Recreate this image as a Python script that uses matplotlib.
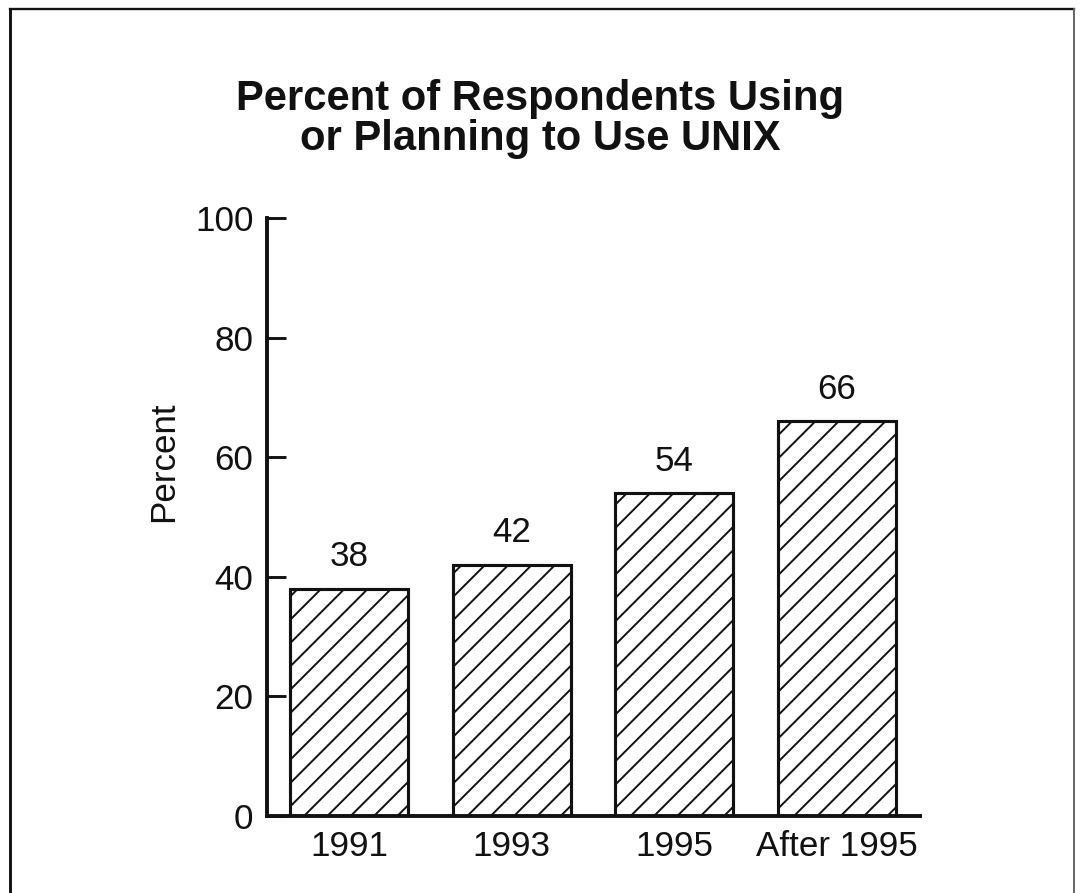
import numpy as np
import matplotlib.pyplot as plt
from matplotlib.lines import Line2D

# Дані
categories = ['1991', '1993', '1995', 'After 1995']
values = [38, 42, 54, 66]
yticks = [0, 20, 40, 60, 80, 100]

plt.rcParams['font.family'] = ['Liberation Sans', 'DejaVu Sans']
plt.rcParams['hatch.linewidth'] = 1.0

dpi = 140
fig = plt.figure(figsize=(1080 / dpi, 893 / dpi), dpi=dpi)
ax = fig.add_axes([267 / 1080, 1 - 816 / 893, (920 - 267) / 1080, (816 - 218) / 893])

x = np.arange(len(categories))
bars = ax.bar(x, values, width=0.725, color='white', edgecolor='#111111',
              linewidth=1.6, hatch='//')

for xi, v in zip(x, values):
    ax.annotate(str(v), (xi, v), xytext=(0, 8), textcoords='offset points',
                ha='center', va='bottom', fontsize=18, color='#111111')

ax.set_xlim(-0.505, 3.51)
ax.set_ylim(0, 100)
ax.set_xticks(x)
ax.set_xticklabels(categories, fontsize=18, color='#111111')
ax.set_yticks(yticks)
ax.set_yticklabels([str(t) for t in yticks], fontsize=18, color='#111111')
ax.tick_params(axis='x', length=0, pad=7)
ax.tick_params(axis='y', direction='in', length=10, width=1.5, pad=7, color='#111111')
ax.spines['top'].set_visible(False)
ax.spines['right'].set_visible(False)
ax.spines['left'].set_linewidth(2)
ax.spines['bottom'].set_linewidth(2)
ax.spines['left'].set_color('#111111')
ax.spines['bottom'].set_color('#111111')
ax.set_ylabel('Percent', fontsize=18, color='#111111')
ax.yaxis.set_label_coords((180 - 267) / (920 - 267), (816 - 462) / (816 - 218))

fig.text(0.5, 1 - 119 / 893, 'Percent of Respondents Using\nor Planning to Use UNIX',
         ha='center', va='center', fontsize=21.5, fontweight='bold',
         color='#111111', linespacing=1.0)

# Рамка навколо графіка
W, H = 1080, 893
fig.add_artist(Line2D([10 / W, 10 / W], [0, 1 - 9 / H], color='#111111', lw=1.5))
fig.add_artist(Line2D([10 / W, 1074 / W], [1 - 9 / H, 1 - 9 / H], color='#111111', lw=1.2))
fig.add_artist(Line2D([1074 / W, 1074 / W], [0, 1 - 9 / H], color='#666666', lw=1.0))

plt.savefig('out.png', dpi=dpi)
